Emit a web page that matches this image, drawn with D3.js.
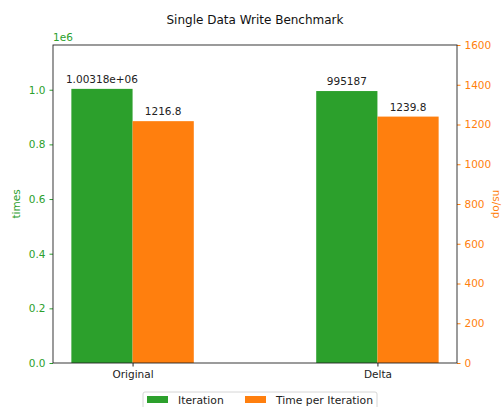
<!DOCTYPE html>
<html>
<head>
<meta charset="utf-8">
<script src="https://cdn.jsdelivr.net/npm/d3@7"></script>
<style>
  body { margin: 0; background: #fff; }
  text { font-family: "DejaVu Sans", sans-serif; }
</style>
</head>
<body>
<div id="chart"></div>
<script>
// data
const categories = ["Original", "Delta"];
const iterations = [1003180, 995187];
const iterationLabels = ["1.00318e+06", "995187"];
const nsPerOp = [1216.8, 1239.8];
const nsLabels = ["1216.8", "1239.8"];
const leftTicks = [0, 0.2e6, 0.4e6, 0.6e6, 0.8e6, 1.0e6];
const rightTicks = [0, 200, 400, 600, 800, 1000, 1200, 1400, 1600];

const W = 503, H = 407;
const margin = { top: 45, right: 46, bottom: 44, left: 53 };
const width = W - margin.left - margin.right,
      height = H - margin.top - margin.bottom;

const green = "#2ca02c", orange = "#ff7f0e";
const fs = "10.5px";

const svg = d3.select("#chart").append("svg")
  .attr("width", W).attr("height", H);

const g = svg.append("g")
  .attr("transform", `translate(${margin.left},${margin.top})`);

// x in matplotlib-like units: category i at position i, bars 0.25 wide
const x = d3.scaleLinear().domain([-0.325, 1.325]).range([0, width]);
const barW = 0.25;
const yL = d3.scaleLinear().domain([0, d3.max(iterations) * 1.16]).range([height, 0]);
const yR = d3.scaleLinear().domain([0, 1600]).range([height, 0]);

// bars
g.selectAll("rect.iter")
  .data(iterations)
  .enter().append("rect")
  .attr("class", "iter")
  .attr("x", (d, i) => x(i - barW))
  .attr("width", x(barW) - x(0))
  .attr("y", d => yL(d))
  .attr("height", d => height - yL(d))
  .attr("fill", green);

g.selectAll("rect.ns")
  .data(nsPerOp)
  .enter().append("rect")
  .attr("class", "ns")
  .attr("x", (d, i) => x(i))
  .attr("width", x(barW) - x(0))
  .attr("y", d => yR(d))
  .attr("height", d => height - yR(d))
  .attr("fill", orange);

// value labels
g.selectAll("text.iterLabel")
  .data(iterations)
  .enter().append("text")
  .attr("x", (d, i) => x(i - barW / 2))
  .attr("y", d => yL(d) - 6)
  .attr("text-anchor", "middle")
  .attr("font-size", fs)
  .attr("fill", "#222")
  .text((d, i) => iterationLabels[i]);

g.selectAll("text.nsLabel")
  .data(nsPerOp)
  .enter().append("text")
  .attr("x", (d, i) => x(i + barW / 2))
  .attr("y", d => yR(d) - 6)
  .attr("text-anchor", "middle")
  .attr("font-size", fs)
  .attr("fill", "#222")
  .text((d, i) => nsLabels[i]);

// left axis
const axL = g.append("g")
  .call(d3.axisLeft(yL).tickValues(leftTicks).tickSize(3.5).tickPadding(4)
    .tickFormat(d => (d / 1e6).toFixed(1)));
axL.select(".domain").remove();
axL.selectAll("line").attr("stroke", green);
axL.selectAll("text").attr("fill", green).attr("font-size", fs).attr("font-family", "DejaVu Sans");

// right axis
const axR = g.append("g")
  .attr("transform", `translate(${width},0)`)
  .call(d3.axisRight(yR).tickValues(rightTicks).tickSize(3.5).tickPadding(4)
    .tickFormat(d3.format("d")));
axR.select(".domain").remove();
axR.selectAll("line").attr("stroke", orange);
axR.selectAll("text").attr("fill", orange).attr("font-size", fs).attr("font-family", "DejaVu Sans");

// bottom axis
const axB = g.append("g")
  .attr("transform", `translate(0,${height})`)
  .call(d3.axisBottom(x).tickValues(categories.map((c, i) => i)).tickSize(3.5).tickPadding(4)
    .tickFormat((d, i) => categories[i]));
axB.select(".domain").remove();
axB.selectAll("line").attr("stroke", "#222");
axB.selectAll("text").attr("fill", "#222").attr("font-size", fs).attr("font-family", "DejaVu Sans");

// frame
g.append("rect")
  .attr("x", 0).attr("y", 0)
  .attr("width", width).attr("height", height)
  .attr("fill", "none")
  .attr("stroke", "#222")
  .attr("stroke-width", 0.9);

// offset text
g.append("text")
  .attr("x", 0).attr("y", -4)
  .attr("font-size", fs)
  .attr("fill", green)
  .text("1e6");

// axis labels
svg.append("text")
  .attr("transform", `translate(20,${margin.top + height / 2}) rotate(-90)`)
  .attr("text-anchor", "middle")
  .attr("font-size", fs)
  .attr("fill", green)
  .text("times");

svg.append("text")
  .attr("transform", `translate(493,${margin.top + height / 2}) rotate(90)`)
  .attr("text-anchor", "middle")
  .attr("font-size", fs)
  .attr("fill", orange)
  .text("ns/op");

// title
svg.append("text")
  .attr("x", margin.left + width / 2)
  .attr("y", 24)
  .attr("text-anchor", "middle")
  .attr("font-size", "12px")
  .attr("fill", "#111")
  .text("Single Data Write Benchmark");

// legend
const legend = svg.append("g").attr("transform", "translate(143,392)");
legend.append("rect")
  .attr("x", 0).attr("y", 0)
  .attr("width", 234).attr("height", 24)
  .attr("rx", 2)
  .attr("fill", "#fff")
  .attr("stroke", "#d6d6d6");
const items = [
  { label: "Iteration", color: green, x: 4 },
  { label: "Time per Iteration", color: orange, x: 102 }
];
items.forEach(it => {
  legend.append("rect")
    .attr("x", it.x).attr("y", 4)
    .attr("width", 21).attr("height", 7)
    .attr("fill", it.color);
  legend.append("text")
    .attr("x", it.x + 31).attr("y", 12)
    .attr("font-size", "10.8px")
    .attr("fill", "#222")
    .text(it.label);
});
</script>
</body>
</html>
